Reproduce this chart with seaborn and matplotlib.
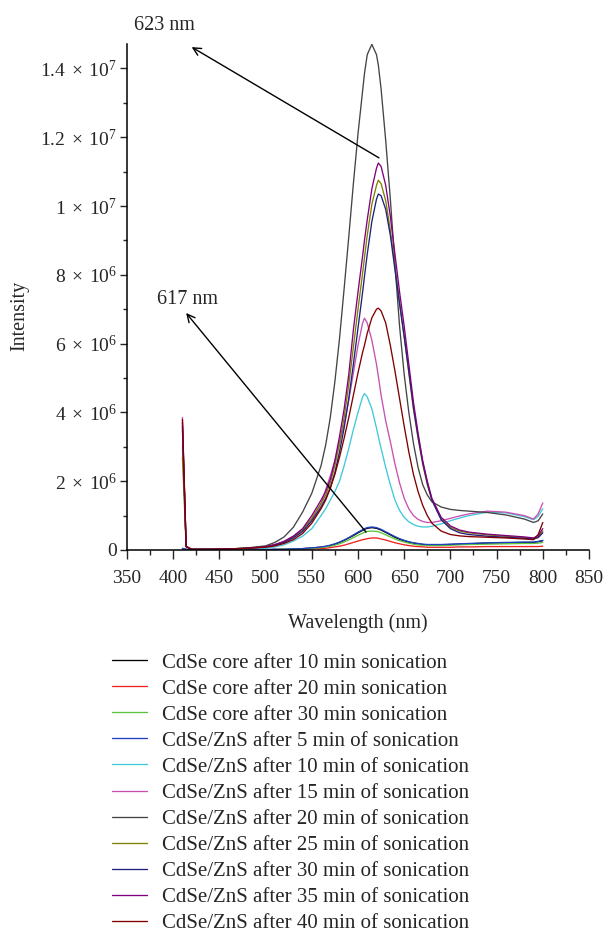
import pandas as pd
import matplotlib
matplotlib.use("Agg")
import matplotlib.pyplot as plt
from matplotlib.ticker import MultipleLocator, FixedLocator, FixedFormatter
import seaborn as sns

# wavelength grid (nm) shared by all spectra
wavelength = [410, 414, 420, 440, 460, 480, 500, 510, 520, 530,
              540, 550, 560, 565, 570, 575, 580, 585, 590, 595,
              600, 605, 607, 610, 615, 620, 622, 625, 630, 635,
              640, 645, 650, 655, 660, 665, 670, 675, 680, 690,
              700, 710, 720, 740, 760, 780, 790, 795, 800]

# intensities in units of 1e6
core_10 = [0.04, 0.02, 0, 0, 0, 0.01, 0.01, 0.02, 0.02, 0.03,
           0.04, 0.06, 0.08, 0.10, 0.13, 0.17, 0.22, 0.28, 0.35, 0.42,
           0.50, 0.57, 0.60, 0.63, 0.65, 0.63, 0.61, 0.58, 0.51, 0.44,
           0.37, 0.31, 0.27, 0.23, 0.20, 0.18, 0.16, 0.15, 0.15, 0.15,
           0.16, 0.17, 0.18, 0.20, 0.21, 0.22, 0.22, 0.24, 0.27]
core_20 = [0.02, 0.01, 0, 0, 0, 0, 0.01, 0.01, 0.01, 0.01,
           0.02, 0.03, 0.04, 0.05, 0.07, 0.09, 0.11, 0.14, 0.18, 0.22,
           0.26, 0.30, 0.31, 0.33, 0.35, 0.35, 0.34, 0.32, 0.29, 0.25,
           0.21, 0.18, 0.15, 0.13, 0.11, 0.10, 0.09, 0.08, 0.08, 0.08,
           0.08, 0.09, 0.09, 0.10, 0.10, 0.10, 0.10, 0.10, 0.11]
core_30 = [0.03, 0.01, 0, 0, 0, 0.01, 0.01, 0.01, 0.02, 0.02,
           0.03, 0.05, 0.07, 0.09, 0.11, 0.14, 0.18, 0.23, 0.29, 0.36,
           0.43, 0.49, 0.51, 0.54, 0.55, 0.54, 0.53, 0.50, 0.44, 0.38,
           0.32, 0.27, 0.23, 0.20, 0.17, 0.15, 0.14, 0.13, 0.13, 0.13,
           0.14, 0.15, 0.16, 0.17, 0.18, 0.19, 0.19, 0.20, 0.22]
zns_05 = [0.05, 0.02, 0, 0, 0, 0.01, 0.01, 0.02, 0.02, 0.03,
          0.04, 0.06, 0.09, 0.11, 0.14, 0.18, 0.23, 0.29, 0.36, 0.44,
          0.52, 0.59, 0.62, 0.65, 0.67, 0.65, 0.63, 0.60, 0.53, 0.46,
          0.39, 0.33, 0.28, 0.24, 0.21, 0.19, 0.17, 0.16, 0.16, 0.16,
          0.17, 0.18, 0.19, 0.21, 0.22, 0.23, 0.23, 0.25, 0.28]
zns_10 = [3.0, 0.1, 0.02, 0.02, 0.02, 0.03, 0.05, 0.09, 0.15, 0.26,
          0.40, 0.62, 1.0, 1.2, 1.45, 1.7, 2.0, 2.45, 2.95, 3.5,
          4.0, 4.45, 4.55, 4.45, 4.1, 3.55, 3.3, 2.95, 2.4, 1.9,
          1.45, 1.15, 0.95, 0.82, 0.74, 0.69, 0.67, 0.67, 0.69, 0.76,
          0.85, 0.93, 1.0, 1.1, 1.08, 0.97, 0.88, 0.98, 1.2]
zns_15 = [3.85, 0.1, 0.02, 0.02, 0.03, 0.05, 0.08, 0.14, 0.25, 0.40,
          0.60, 0.90, 1.35, 1.75, 2.15, 2.6, 3.1, 3.65, 4.35, 5.15,
          5.95, 6.6, 6.74, 6.6, 6.1, 5.4, 5.05, 4.5, 3.75, 3.15,
          2.5, 1.95, 1.5, 1.2, 1.0, 0.89, 0.83, 0.8, 0.8, 0.85,
          0.92, 0.99, 1.05, 1.13, 1.1, 1.0, 0.9, 1.05, 1.37]
zns_20 = [3.5, 0.1, 0.02, 0.02, 0.03, 0.06, 0.12, 0.22, 0.38, 0.66,
          1.1, 1.65, 2.45, 3.05, 3.85, 4.9, 6.15, 7.6, 9.1, 10.65,
          12.1, 13.35, 13.85, 14.4, 14.7, 14.4, 14.1, 13.4, 11.9, 10.2,
          8.3, 6.5, 5.1, 4.0, 3.1, 2.4, 1.9, 1.6, 1.4, 1.25,
          1.18, 1.15, 1.13, 1.09, 1.02, 0.9, 0.8, 0.85, 1.05]
zns_25 = [2.7, 0.1, 0.02, 0.02, 0.03, 0.05, 0.1, 0.15, 0.24, 0.38,
          0.58, 0.92, 1.35, 1.6, 1.95, 2.45, 3.1, 3.85, 4.8, 5.9,
          7.0, 8.05, 8.5, 9.15, 10.05, 10.6, 10.75, 10.65, 10.15, 9.3,
          8.25, 7.2, 6.2, 5.15, 4.1, 3.25, 2.5, 1.9, 1.45, 0.9,
          0.66, 0.55, 0.5, 0.44, 0.4, 0.36, 0.33, 0.38, 0.55]
zns_30 = [3.6, 0.1, 0.02, 0.02, 0.03, 0.05, 0.09, 0.14, 0.22, 0.35,
          0.54, 0.85, 1.25, 1.5, 1.8, 2.25, 2.85, 3.55, 4.4, 5.4,
          6.45, 7.5, 7.95, 8.6, 9.55, 10.2, 10.35, 10.3, 9.9, 9.15,
          8.15, 7.15, 6.2, 5.2, 4.15, 3.3, 2.55, 1.95, 1.45, 0.88,
          0.62, 0.5, 0.45, 0.4, 0.37, 0.34, 0.32, 0.36, 0.5]
zns_35 = [3.7, 0.1, 0.02, 0.02, 0.03, 0.05, 0.1, 0.16, 0.25, 0.4,
          0.62, 1.0, 1.45, 1.7, 2.05, 2.6, 3.3, 4.1, 5.1, 6.4,
          7.5, 8.55, 9.0, 9.6, 10.5, 11.1, 11.25, 11.15, 10.6, 9.7,
          8.6, 7.5, 6.5, 5.4, 4.3, 3.4, 2.6, 2.0, 1.5, 0.95,
          0.7, 0.58, 0.52, 0.46, 0.42, 0.38, 0.35, 0.42, 0.62]
zns_40 = [3.8, 0.1, 0.02, 0.02, 0.03, 0.05, 0.08, 0.12, 0.19, 0.3,
          0.48, 0.78, 1.2, 1.45, 1.8, 2.2, 2.7, 3.25, 3.85, 4.5,
          5.15, 5.75, 5.95, 6.3, 6.75, 7.0, 7.03, 6.95, 6.6, 5.95,
          5.2, 4.4, 3.6, 2.85, 2.2, 1.7, 1.3, 1.0, 0.78, 0.55,
          0.45, 0.41, 0.39, 0.37, 0.35, 0.32, 0.3, 0.45, 0.8]

series_names = ["CdSe core after 10 min sonication",
                "CdSe core after 20 min sonication",
                "CdSe core after 30 min sonication",
                "CdSe/ZnS after 5 min of sonication",
                "CdSe/ZnS after 10 min of sonication",
                "CdSe/ZnS after 15 min of sonication",
                "CdSe/ZnS after 20 min of sonication",
                "CdSe/ZnS after 25 min of sonication",
                "CdSe/ZnS after 30 min of sonication",
                "CdSe/ZnS after 35 min of sonication",
                "CdSe/ZnS after 40 min of sonication"]
series_values = [core_10, core_20, core_30, zns_05, zns_10, zns_15,
                 zns_20, zns_25, zns_30, zns_35, zns_40]
colors = ["#000000", "#f02020", "#5cc43c", "#2040c0", "#40c8dc", "#c850b0",
          "#444444", "#808000", "#20207f", "#800080", "#800000"]

ytick_values = [0, 2e6, 4e6, 6e6, 8e6, 1e7, 1.2e7, 1.4e7]
ytick_labels = ["0", r"$2\;\times\;10^{6}$", r"$4\;\times\;10^{6}$",
                r"$6\;\times\;10^{6}$", r"$8\;\times\;10^{6}$",
                r"$1\;\times\;10^{7}$", r"$1.2\;\times\;10^{7}$",
                r"$1.4\;\times\;10^{7}$"]

rows = []
for name, vals in zip(series_names, series_values):
    for w, v in zip(wavelength, vals):
        rows.append((name, w, v * 1e6))
df = pd.DataFrame(rows, columns=["series", "wavelength", "intensity"])

sns.set_style("ticks")
plt.rcParams["font.family"] = ["Liberation Serif", "DejaVu Serif"]
plt.rcParams["mathtext.fontset"] = "custom"
plt.rcParams["mathtext.rm"] = "Liberation Serif"
plt.rcParams["mathtext.it"] = "Liberation Serif:italic"
plt.rcParams["font.size"] = 14

fig = plt.figure(figsize=(6.08, 9.35), dpi=100)
ax = fig.add_axes([127 / 608, 385 / 935, 462 / 608, 506 / 935])

sns.lineplot(data=df, x="wavelength", y="intensity", hue="series",
             hue_order=series_names, palette=dict(zip(series_names, colors)),
             sort=False, estimator=None, linewidth=0.95, ax=ax)

ax.set_xlim(350, 850)
ax.set_ylim(0, 1.471e7)
ax.xaxis.set_major_locator(MultipleLocator(50))
ax.xaxis.set_minor_locator(MultipleLocator(25))
ax.yaxis.set_major_locator(FixedLocator(ytick_values))
ax.yaxis.set_major_formatter(FixedFormatter(ytick_labels))
ax.yaxis.set_minor_locator(MultipleLocator(1e6))
ax.tick_params(axis="x", which="major", length=6.5, width=1, pad=8, labelsize=14)
ax.tick_params(axis="x", which="minor", length=3.6, width=1)
ax.tick_params(axis="y", which="major", length=5, width=1, pad=2, labelsize=14)
ax.tick_params(axis="y", which="minor", length=3, width=1)
for side in ["left", "bottom"]:
    ax.spines[side].set_linewidth(1.1)
    ax.spines[side].set_color("black")
sns.despine(ax=ax)

ax.set_xlabel("Wavelength (nm)", fontsize=14.5)
ax.set_ylabel("Intensity", fontsize=14.5)
ax.xaxis.set_label_coords(0.5, -0.125)
ax.yaxis.set_label_coords(-0.212, 0.462)

# peak annotations
ax.annotate("", xy=(420, 1.462e7), xytext=(622.7, 1.14e7),
            arrowprops=dict(arrowstyle="->", color="black", lw=1, shrinkA=0, shrinkB=0),
            annotation_clip=False)
ax.text(390, 1.525e7, "623 nm", ha="center", va="center", fontsize=14.5, clip_on=False)
ax.annotate("", xy=(414, 6.89e6), xytext=(608.7, 0.52e6),
            arrowprops=dict(arrowstyle="->", color="black", lw=1, shrinkA=0, shrinkB=0),
            annotation_clip=False)
ax.text(415.5, 7.27e6, "617 nm", ha="center", va="center", fontsize=14.5)

handles, labels = ax.get_legend_handles_labels()
ax.get_legend().remove()
fig.legend(handles, labels, loc="upper left", bbox_to_anchor=(112 / 608, 1 - 653 / 935),
           frameon=False, fontsize=15, handlelength=1.7, handletextpad=0.7,
           borderpad=0, borderaxespad=0, labelspacing=0.31)

fig.savefig("out.png", dpi=100)
